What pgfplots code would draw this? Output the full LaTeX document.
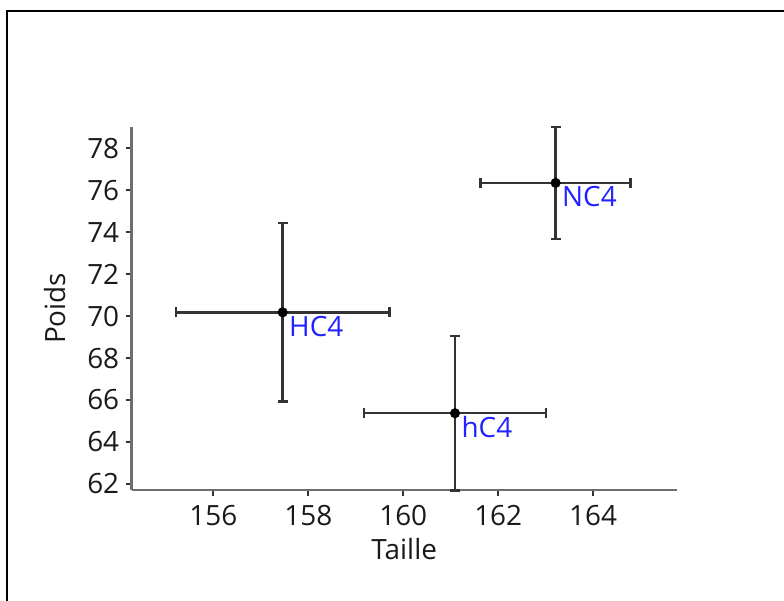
\documentclass[border=0pt]{standalone}
\usepackage{fontspec}
\setmainfont{Open Sans}
\usepackage{pgfplots}
\pgfplotsset{compat=1.18}
\definecolor{axisgray}{HTML}{6E6E6E}
\definecolor{errgray}{HTML}{333333}
\definecolor{labelblue}{HTML}{2222FF}
\definecolor{txt}{HTML}{1A1A1A}
\pgfplotstableread{
x y ex ey label
157.46 70.18 2.25 4.25 HC4
161.09 65.37 1.92 3.68 hC4
163.21 76.35 1.58 2.66 NC4
}\pts
\begin{document}
\begin{tikzpicture}
\path[use as bounding box] (-131.7bp,-111bp) rectangle (652.3bp,490bp);
\begin{axis}[
  at={(0,0)}, anchor=south west,
  scale only axis, width=545bp, height=363.3bp,
  xmin=154.28, xmax=165.76, ymin=61.71, ymax=79.03,
  axis x line*=bottom, axis y line*=left,
  axis line style={line width=2.8bp, color=axisgray, -},
  xtick={156,158,160,162,164}, ytick={62,64,66,68,70,72,74,76,78},
  tick style={line width=1.8bp, color=errgray},
  tick align=outside, major tick length=6bp,
  /pgf/number format/assume math mode=true,
  tick label style={font=\fontsize{28}{32}\selectfont, text=txt},
  xticklabel style={yshift=-6bp},
  yticklabel style={xshift=-3bp},
  xlabel={Taille}, ylabel={Poids},
  label style={font=\fontsize{28}{32}\selectfont, text=txt},
  xlabel style={at={(axis description cs:0.5,-0.162)}, anchor=center},
  ylabel style={at={(axis description cs:-0.141,0.5)}, anchor=center, rotate=0},
  clip=false,
]
\addplot[only marks, mark=*, mark size=4.8bp, black,
  point meta=explicit symbolic,
  nodes near coords,
  nodes near coords style={anchor=north west, text=labelblue, font=\fontsize{28}{32}\selectfont, xshift=3bp, yshift=0bp},
  error bars/.cd, x dir=both, x explicit, y dir=both, y explicit,
  error bar style={line width=2.4bp, color=errgray},
  error mark options={rotate=90, line width=2.4bp, mark size=5bp, color=errgray}]
  table[x=x, y=y, x error=ex, y error=ey, meta=label]{\pts};
\end{axis}
\draw[line width=2bp, black] (-124.2bp,-111bp) -- (-124.2bp,479bp) -- (652.3bp,479bp);
\end{tikzpicture}
\end{document}
